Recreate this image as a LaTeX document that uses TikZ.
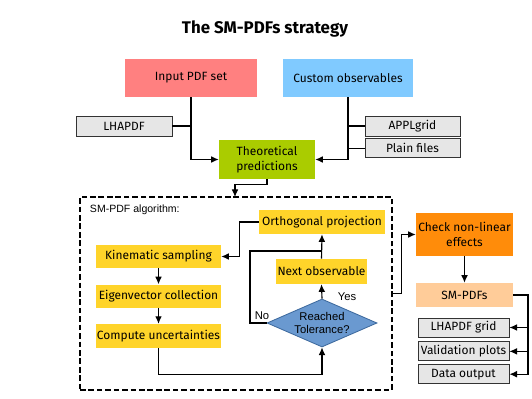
\documentclass[tikz,border=0pt]{standalone}
\usepackage{fontspec}
\setmainfont{Fira Sans}
\newfontfamily\plainsans{Liberation Sans}
\usepackage{tikz}
\usetikzlibrary{arrows.meta, positioning, shapes.geometric, calc}
\definecolor{InRed}{HTML}{FF8080}
\definecolor{ObsBlue}{HTML}{80CAFF}
\definecolor{TheoGreen}{HTML}{AACC00}
\definecolor{AlgoGold}{HTML}{FFD42A}
\definecolor{TolBlue}{HTML}{6A99D0}
\definecolor{TolEdge}{HTML}{3E6A9E}
\definecolor{CheckOrange}{HTML}{FF8C0A}
\definecolor{SMOrange}{HTML}{FFCC99}
\definecolor{ToolGray}{HTML}{E6E6E6}
\newcommand{\boxfont}{\fontsize{8.5}{10.5}\selectfont}

\begin{document}
\begin{tikzpicture}[
    x=0.025cm, y=-0.025cm,
    box/.style={rectangle, inner sep=1pt, align=center, font=\boxfont},
    source/.style={box, minimum width=3.3cm, minimum height=0.95cm},
    tool/.style={box, fill=ToolGray, draw=black!80, line width=0.6pt, minimum width=2.4cm, minimum height=0.5cm},
    outbox/.style={tool, minimum width=2.275cm, minimum height=0.475cm},
    stepbox/.style={box, fill=AlgoGold, minimum width=3.125cm, minimum height=0.575cm},
    arrow/.style={-{Latex[length=1.9mm, width=1.7mm]}, line width=0.8pt},
    link/.style={line width=0.8pt},
    note/.style={font=\plainsans\fontsize{8}{9.5}\selectfont}
]
\useasboundingbox (0,0) rectangle (532,399);

% Title
\node[font=\fontsize{12}{14}\selectfont\bfseries] (title) at (265,29) {The SM-PDFs strategy};

% Inputs
\node[source, fill=InRed] (inpdf) at (191,78) {Input PDF set};
\node[source, fill=ObsBlue, minimum width=3.25cm] (custobs) at (348,78) {Custom observables};
\node[tool] (lhapdf) at (124,126) {LHAPDF};
\node[tool, minimum width=2.375cm] (applgrid) at (412.5,126) {APPLgrid};
\node[tool, minimum width=2.375cm, minimum height=0.475cm, below=0.05cm of applgrid] (plain) {Plain files};

% Theory
\node[box, fill=TheoGreen, minimum width=2.4cm, minimum height=0.975cm] (theo) at (267,159.5) {Theoretical\\predictions};

\draw[arrow] (inpdf.south) |- (theo.west);
\draw[link] (lhapdf.east) -- (lhapdf.east -| inpdf.south);
\draw[arrow] (custobs.south) |- (theo.east);
\draw[link] (applgrid.west) -- (applgrid.west -| custobs.south);
\draw[link] (plain.west) -- (plain.west -| custobs.south);

% Algorithm frame
\node[draw, line width=1.6pt, dash pattern=on 4pt off 2pt, minimum width=7.8cm, minimum height=4.825cm, inner sep=0pt] (algo) at (236,293.5) {};
\node[note, anchor=west, font=\plainsans\fontsize{7.5}{9}\selectfont] (algolabel) at (85,210) {SM-PDF algorithm:};
\coordinate (algoin) at (235,197);
\draw[arrow] (theo.south) -- ++(0,5) -| (algoin);

% Algorithm steps
\node[stepbox, minimum width=3.15cm, minimum height=0.6cm] (orth) at (322,222) {Orthogonal projection};
\node[stepbox] (kin) at (158.5,256.5) {Kinematic sampling};
\node[stepbox, below=0.4cm of kin] (eig) {Eigenvector collection};
\node[stepbox, minimum height=0.6cm, below=0.4cm of eig] (comp) {Compute uncertainties};
\node[stepbox, minimum width=2.275cm, minimum height=0.625cm] (next) at (321.5,271.5) {Next observable};
\node[diamond, aspect=2.3, fill=TolBlue, draw=TolEdge, line width=0.6pt, inner sep=-4pt, minimum width=2.75cm, minimum height=1.2cm, align=center, note] (tol) at (322,323) {Reached\\Tolerance?};

\draw[arrow] (kin) -- (eig);
\draw[arrow] (eig) -- (comp);
\draw[arrow] (comp.south) -- ++(0,26) -| (tol.south);
\draw[arrow] (tol.north) -- (next.south);
\draw[arrow] (next.north) -- (orth.south);
\coordinate (noturn) at (250,251);
\draw[link] (tol.west) -| (noturn) -- (noturn -| next.north);
\draw[arrow] (orth.west) -- ++(-19,0) |- (kin.east);
\node[note] (nolabel) at (262,316) {No};
\node[note] (yeslabel) at (347,297) {Yes};

% Outputs
\node[box, fill=CheckOrange, minimum width=2.425cm, minimum height=1.075cm] (check) at (464.5,234.5) {Check non-linear\\effects};
\node[box, fill=SMOrange, minimum width=2.425cm, minimum height=0.6cm] (smpdfs) at (464.5,295) {SM-PDFs};
\node[outbox] (lhagrid) at (463.5,327.5) {LHAPDF grid};
\node[outbox, below=0.1cm of lhagrid] (valid) {Validation plots};
\node[outbox, below=0.075cm of valid] (dataout) {Data output};

\draw[arrow] (algo.east) -- ++(8,0) |- (check.west);
\draw[arrow] (check) -- (smpdfs);
\coordinate (rail) at (528,295);
\draw[arrow] (smpdfs.east) -- (rail) |- (dataout.east);
\draw[arrow] (rail |- lhagrid.east) -- (lhagrid.east);
\draw[arrow] (rail |- valid.east) -- (valid.east);
\end{tikzpicture}
\end{document}
